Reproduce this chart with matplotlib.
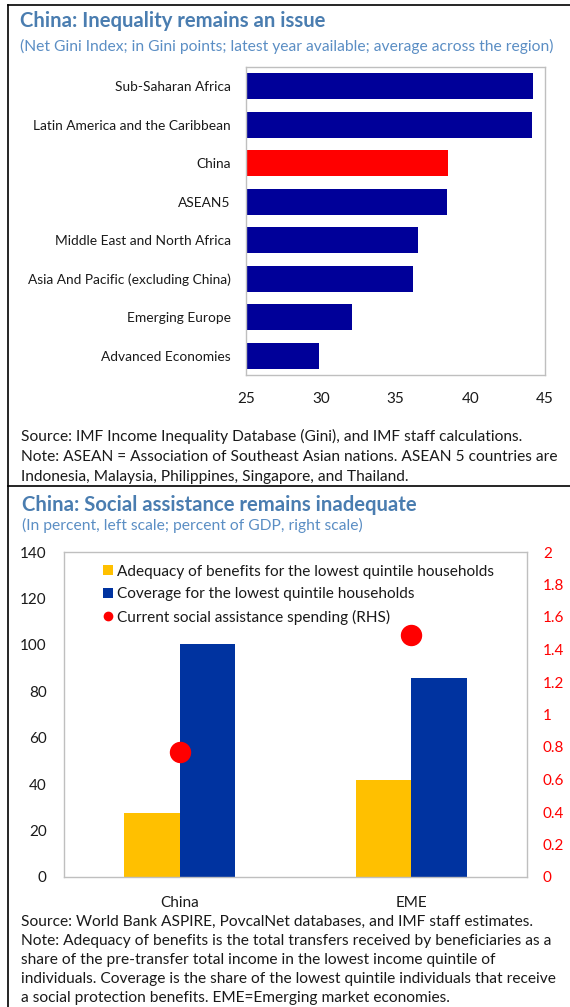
import matplotlib
matplotlib.use("Agg")
import matplotlib.pyplot as plt
from matplotlib.lines import Line2D
from matplotlib.patches import Patch

plt.rcParams['font.family'] = ['Lato', 'DejaVu Sans']

W, H = 570, 1007

# ---------------- data ----------------
regions = ["Sub-Saharan Africa", "Latin America and the Caribbean", "China", "ASEAN5",
           "Middle East and North Africa", "Asia And Pacific (excluding China)",
           "Emerging Europe", "Advanced Economies"]
gini = [44.2, 44.1, 38.5, 38.45, 36.5, 36.2, 32.1, 29.9]
gini_ticks = [25, 30, 35, 40, 45]

groups = ["China", "EME"]
adequacy = [27.7, 41.7]
coverage = [100.2, 85.9]
spending = [0.77, 1.49]
left_ticks = [0, 20, 40, 60, 80, 100, 120, 140]
right_ticks = [0, 0.2, 0.4, 0.6, 0.8, 1, 1.2, 1.4, 1.6, 1.8, 2]
right_labels = ["0", "0.2", "0.4", "0.6", "0.8", "1", "1.2", "1.4", "1.6", "1.8", "2"]

title_c = "#4A7DB0"
sub_c = "#5B8EC4"
navy = "#000099"
red = "#FF0000"
yellow = "#FFC000"
blue = "#0033A0"
frame_c = "#BFBFBF"
text_c = "#1A1A1A"

fig = plt.figure(figsize=(W / 100, H / 100), dpi=100)


def ax_px(l, t, r, b):
    return fig.add_axes([l / W, 1 - b / H, (r - l) / W, (b - t) / H])


def ftext(x, y, s, **kw):
    fig.text(x / W, 1 - y / H, s, **kw)


# borders
fig.add_artist(Line2D([8 / W, 8 / W], [0, 1 - 5 / H], color="black", lw=1.2))
fig.add_artist(Line2D([8 / W, 1], [1 - 5 / H, 1 - 5 / H], color="black", lw=1.2))
fig.add_artist(Line2D([8 / W, 1], [1 - 486 / H, 1 - 486 / H], color="black", lw=1.2))

# ---------------- top chart ----------------
ftext(20, 21, "China: Inequality remains an issue", fontsize=14.6, fontweight="bold",
      color=title_c, va="center", ha="left")
ftext(20, 46, "(Net Gini Index; in Gini points; latest year available; average across the region)",
      fontsize=11.25, color=sub_c, va="center", ha="left")

ax1 = ax_px(246, 67, 545, 375)
ypos = list(range(len(regions)))
colors = [red if r == "China" else navy for r in regions]
ax1.barh(ypos, [g - 25 for g in gini], left=25, height=0.67, color=colors)
ax1.set_xlim(25, 45)
ax1.set_ylim(len(regions) - 0.5, -0.5)
ax1.set_yticks(ypos)
ax1.set_yticklabels(regions, fontsize=9.9, color=text_c)
ax1.set_xticks(gini_ticks)
ax1.set_xticklabels([str(t) for t in gini_ticks], fontsize=11, color=text_c)
ax1.tick_params(axis="both", length=0)
ax1.tick_params(axis="x", pad=12)
ax1.tick_params(axis="y", pad=11)
for sp in ax1.spines.values():
    sp.set_color(frame_c)
    sp.set_linewidth(1.0)

src1 = ("Source: IMF Income Inequality Database (Gini), and IMF staff calculations.\n"
        "Note: ASEAN = Association of Southeast Asian nations. ASEAN 5 countries are\n"
        "Indonesia, Malaysia, Philippines, Singapore, and Thailand.")
ftext(21, 429, src1, fontsize=11.2, color=text_c, va="top", ha="left", linespacing=1.55)

# ---------------- bottom chart ----------------
ftext(22, 505, "China: Social assistance remains inadequate", fontsize=14.6, fontweight="bold",
      color=title_c, va="center", ha="left")
ftext(22, 525, "(In percent, left scale; percent of GDP, right scale)",
      fontsize=11.25, color=sub_c, va="center", ha="left")

ax2 = ax_px(64, 552, 527, 877)
x = list(range(len(groups)))
bw = 0.24
ax2.bar([i - bw / 2 for i in x], adequacy, width=bw, color=yellow, zorder=2)
ax2.bar([i + bw / 2 for i in x], coverage, width=bw, color=blue, zorder=2)
ax2.set_xlim(-0.5, 1.5)
ax2.set_ylim(0, 140)
ax2.set_yticks(left_ticks)
ax2.set_yticklabels([str(t) for t in left_ticks], fontsize=11, color=text_c)
ax2.set_xticks(x)
ax2.set_xticklabels(groups, fontsize=11, color=text_c)
ax2.tick_params(axis="both", length=0)
ax2.tick_params(axis="y", pad=12.5)
ax2.tick_params(axis="x", pad=13.5)
for sp in ax2.spines.values():
    sp.set_color(frame_c)
    sp.set_linewidth(1.0)

ax3 = ax2.twinx()
ax3.plot(x, spending, linestyle="none", marker="o", markersize=14.4, color=red, zorder=3)
ax3.set_ylim(0, 2)
ax3.set_yticks(right_ticks)
ax3.set_yticklabels(right_labels, fontsize=11, color=red)
ax3.tick_params(axis="y", length=0, pad=11.5)
for sp in ax3.spines.values():
    sp.set_visible(False)

handles = [Patch(facecolor=yellow, edgecolor="none"),
           Patch(facecolor=blue, edgecolor="none"),
           Line2D([], [], linestyle="none", marker="o", markersize=6, color=red)]
labels = ["Adequacy of benefits for the lowest quintile households",
          "Coverage for the lowest quintile households",
          "Current social assistance spending (RHS)"]
ax3.legend(handles, labels, loc="upper left", bbox_to_anchor=(0.07, 0.98), frameon=False,
           fontsize=11.1, handlelength=0.65, handleheight=0.65, handletextpad=0.3,
           labelspacing=0.55, borderaxespad=0, labelcolor=text_c)

src2 = ("Source: World Bank ASPIRE, PovcalNet databases, and IMF staff estimates.\n"
        "Note: Adequacy of benefits is the total transfers received by beneficiaries as a\n"
        "share of the pre-transfer total income in the lowest income quintile of\n"
        "individuals. Coverage is the share of the lowest quintile individuals that receive\n"
        "a social protection benefits. EME=Emerging market economies.")
ftext(21, 915, src2, fontsize=11.2, color=text_c, va="top", ha="left", linespacing=1.45)

fig.savefig("out.png", dpi=100)
